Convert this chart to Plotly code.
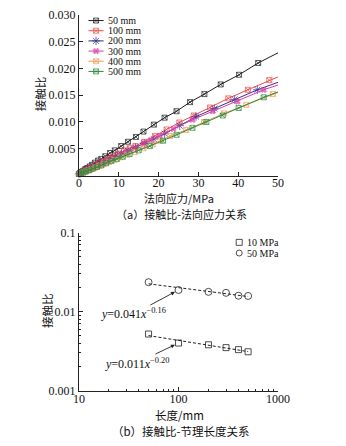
import numpy as np
import plotly.graph_objects as go

# ---------------- data: (a) contact ratio vs normal stress ----------------
series_names = ["50 mm", "100 mm", "200 mm", "300 mm", "400 mm", "500 mm"]

stress_50 = [0, 0.3, 0.7, 1.1, 1.6, 2.1, 2.7, 3.3, 4.0, 4.8, 5.6, 6.6, 7.8, 9.0, 10.6, 12.3, 14.3,
             16.2, 18.8, 21.5, 24.5, 27.9, 31.5, 35.6, 40.2, 45.0, 50.0]
ratio_50 = [0.0003, 0.00045, 0.0007, 0.0009, 0.0012, 0.0014, 0.0017, 0.0020, 0.0024, 0.0028, 0.0031,
            0.0036, 0.0042, 0.0047, 0.0055, 0.0063, 0.0072, 0.0082, 0.0095, 0.0108, 0.0120, 0.0137,
            0.0152, 0.0170, 0.0188, 0.0210, 0.0229]

stress_100 = [0, 0.4, 0.9, 1.4, 2.0, 2.6, 3.3, 4.1, 5.0, 6.0, 7.1, 8.4, 9.8, 11.3, 12.7, 14.2, 16.4,
              19.1, 22.0, 25.2, 28.8, 32.9, 37.5, 42.4, 47.8, 50.0]
ratio_100 = [0.0003, 0.00045, 0.0007, 0.0009, 0.0011, 0.0013, 0.0016, 0.0019, 0.0023, 0.0027, 0.0031,
             0.0036, 0.0041, 0.0047, 0.0051, 0.0055, 0.0063, 0.0074, 0.0086, 0.0099, 0.0112, 0.0127,
             0.0144, 0.0160, 0.0178, 0.0184]

stress_200 = [0, 0.4, 0.9, 1.5, 2.1, 2.8, 3.6, 4.5, 5.5, 6.6, 7.8, 9.1, 10.6, 12.3, 14.2, 16.4, 18.8,
              21.5, 25.3, 29.4, 34.0, 39.1, 44.8, 50.0]
ratio_200 = [0.0003, 0.00045, 0.0006, 0.0008, 0.0010, 0.0013, 0.0015, 0.0018, 0.0022, 0.0026, 0.0030,
             0.0035, 0.0040, 0.0046, 0.0052, 0.0060, 0.0068, 0.0078, 0.0093, 0.0110, 0.0125, 0.0142,
             0.0160, 0.0174]

stress_300 = [0, 0.5, 1.0, 1.6, 2.3, 3.0, 3.9, 4.9, 6.0, 7.2, 8.6, 10.2, 12.0, 14.0, 16.2, 18.0, 20.2,
              23.7, 28.5, 33.6, 39.8, 46.4, 50.0]
ratio_300 = [0.0003, 0.0005, 0.0007, 0.0009, 0.0011, 0.0013, 0.0016, 0.0020, 0.0023, 0.0028, 0.0032,
             0.0038, 0.0044, 0.0051, 0.0059, 0.0066, 0.0074, 0.0087, 0.0104, 0.0120, 0.0138, 0.0160,
             0.0169]

stress_400 = [0, 0.5, 1.1, 1.7, 2.4, 3.2, 4.1, 5.1, 6.2, 7.5, 8.9, 10.4, 12.1, 14.0, 16.2, 18.5, 20.5,
              22.9, 26.9, 31.4, 36.4, 42.0, 48.7, 50.0]
ratio_400 = [0.0003, 0.0004, 0.0006, 0.0008, 0.0010, 0.0012, 0.0015, 0.0018, 0.0021, 0.0025, 0.0029,
             0.0034, 0.0039, 0.0044, 0.0051, 0.0058, 0.0065, 0.0074, 0.0085, 0.0100, 0.0116, 0.0132,
             0.0152, 0.0155]

stress_500 = [0, 0.5, 1.1, 1.8, 2.6, 3.5, 4.5, 5.6, 6.8, 8.1, 9.5, 11.0, 12.7, 15.0, 17.8, 21.1, 24.5,
              28.5, 32.0, 36.1, 40.1, 46.4, 50.0]
ratio_500 = [0.0003, 0.0004, 0.0006, 0.0008, 0.0010, 0.0013, 0.0016, 0.0019, 0.0023, 0.0027, 0.0031,
             0.0035, 0.0040, 0.0047, 0.0055, 0.0065, 0.0076, 0.0089, 0.0100, 0.0112, 0.0126, 0.0146,
             0.0156]

# ---------------- data: (b) contact ratio vs joint length ----------------
lengths = [50, 100, 200, 300, 400, 500]
ratio_10MPa = [0.0052, 0.0040, 0.0038, 0.0035, 0.0033, 0.0031]
ratio_50MPa = [0.0236, 0.0188, 0.0178, 0.0173, 0.0159, 0.0158]

x_ticks_a = [0, 10, 20, 30, 40, 50]
y_ticks_a = [0.005, 0.010, 0.015, 0.020, 0.025, 0.030]
y_ticklabels_a = ["0.005", "0.010", "0.015", "0.020", "0.025", "0.030"]
x_ticks_b = [10, 100, 1000]
y_ticks_b = [0.001, 0.01, 0.1]

# ---------------- style ----------------
W, H = 346, 446
SERIF = "Liberation Serif, Times New Roman, Noto Sans CJK SC, serif"
CJK = "Noto Sans CJK SC, Liberation Serif, sans-serif"
colors = ["#1e1e1e", "#ef4a4a", "#3a2d8e", "#d83fa4", "#f29a58", "#2b8c3c"]
symbols = ["square-x-open", "square-x-open", "asterisk-open", "x", "square-x-open", "square-x-open"]
msizes = [5, 5, 7, 5, 5, 5]

def px_x(px):
    return px / W

def px_y(py):
    return 1 - py / H

fig = go.Figure()

all_series = [(stress_50, ratio_50), (stress_100, ratio_100), (stress_200, ratio_200),
              (stress_300, ratio_300), (stress_400, ratio_400), (stress_500, ratio_500)]

for i, (xs, ys) in enumerate(all_series):
    sizes = [msizes[i]] * (len(xs) - 1) + [0]
    fig.add_trace(go.Scatter(
        x=xs, y=ys, mode="lines+markers", name=series_names[i],
        line=dict(color=colors[i], width=1),
        marker=dict(symbol=symbols[i], size=sizes, color=colors[i],
                    line=dict(color=colors[i], width=1)),
        xaxis="x", yaxis="y", showlegend=False, cliponaxis=False))

# power-law fits for (b)
for vals, sym in [(ratio_10MPa, "square-open"), (ratio_50MPa, "circle-open")]:
    b, a = np.polyfit(np.log10(lengths), np.log10(vals), 1)
    xf = np.geomspace(lengths[0], lengths[-1], 30)
    yf = 10 ** (a + b * np.log10(xf))
    fig.add_trace(go.Scatter(x=xf, y=yf, mode="lines", line=dict(color="#222", width=1, dash="3px,2px"),
                             xaxis="x2", yaxis="y2", showlegend=False, hoverinfo="skip"))
    fig.add_trace(go.Scatter(x=lengths, y=vals, mode="markers",
                             marker=dict(symbol=sym, size=7 if sym == "circle-open" else 6,
                                         color="#222", line=dict(width=0.8, color="#222")),
                             xaxis="x2", yaxis="y2", showlegend=False))

# ---------------- manual legends on an overlay pixel axis ----------------
leg_rows = [14, 24.5, 35, 45.5, 56, 66.5]
for i, row in enumerate(leg_rows):
    fig.add_trace(go.Scatter(
        x=[87, 95, 103], y=[row, row, row], mode="lines+markers",
        line=dict(color=colors[i], width=1),
        marker=dict(symbol=symbols[i], size=[0, msizes[i], 0], color=colors[i],
                    line=dict(color=colors[i], width=1)),
        xaxis="x3", yaxis="y3", showlegend=False, hoverinfo="skip"))
    fig.add_annotation(x=106, y=row, xref="x3", yref="y3", text=series_names[i], showarrow=False,
                       xanchor="left", yanchor="middle", font=dict(family=SERIF, size=10, color="#111"))

for row, sym, lab in [(243, "square-open", "10 MPa"), (254, "circle-open", "50 MPa")]:
    fig.add_trace(go.Scatter(x=[246], y=[row], mode="markers",
                             marker=dict(symbol=sym, size=6, color="#222", line=dict(width=0.8, color="#222")),
                             xaxis="x3", yaxis="y3", showlegend=False, hoverinfo="skip"))
    fig.add_annotation(x=252, y=row, xref="x3", yref="y3", text=lab, showarrow=False,
                       xanchor="left", yanchor="middle", font=dict(family=SERIF, size=10, color="#111"))

axis_common = dict(showline=True, linecolor="#222", linewidth=1, ticks="inside", ticklen=4,
                   tickcolor="#222", tickwidth=1, showgrid=False, zeroline=False, mirror=False,
                   tickfont=dict(family=SERIF, size=12, color="#111"))

xd = [px_x(77), px_x(287)]
fig.update_layout(
    width=W, height=H, margin=dict(l=0, r=0, t=0, b=0),
    paper_bgcolor="white", plot_bgcolor="rgba(0,0,0,0)", showlegend=False,
    xaxis=dict(domain=xd, anchor="y", range=[0, 50], tickvals=x_ticks_a, ticklabelstandoff=-4,
               **axis_common),
    yaxis=dict(domain=[px_y(174), px_y(8)], anchor="x", range=[0, 0.030], tickvals=y_ticks_a,
               ticktext=y_ticklabels_a, **axis_common),
    xaxis2=dict(domain=xd, anchor="y2", type="log", range=[1, 3], tickvals=x_ticks_b,
                ticktext=["10", "100", "1000"], ticklabelstandoff=-3,
                minor=dict(tickvals=[20, 30, 40, 50, 60, 70, 80, 90, 200, 300, 400, 500, 600, 700, 800, 900],
                           ticks="inside", ticklen=2, tickcolor="#222"),
                **axis_common),
    yaxis2=dict(domain=[px_y(396), px_y(233)], anchor="x2", type="log", range=[-3, -1], tickvals=y_ticks_b,
                ticktext=["0.001", "0.01", "0.1"],
                minor=dict(tickvals=[0.002, 0.003, 0.004, 0.005, 0.006, 0.007, 0.008, 0.009,
                                     0.02, 0.03, 0.04, 0.05, 0.06, 0.07, 0.08, 0.09],
                           ticks="inside", ticklen=2, tickcolor="#222"),
                **axis_common),
    xaxis3=dict(domain=[0, 1], anchor="y3", range=[0, W], visible=False, fixedrange=True),
    yaxis3=dict(domain=[0, 1], anchor="x3", range=[H, 0], visible=False, fixedrange=True),
)

# axis titles and captions
texts = [
    ("法向应力/MPa", 183, 197.5, 0, 11),
    ("（a）接触比-法向应力关系", 185, 214, 0, 11),
    ("长度/mm", 183, 421, 0, 11.5),
    ("（b）接触比-节理长度关系", 185, 438, 0, 11.5),
    ("接触比", 36, 90, -90, 11.5),
    ("接触比", 43, 313, -90, 11.5),
]
for t, x, y, ang, fs in texts:
    fig.add_annotation(x=px_x(x), y=px_y(y), xref="paper", yref="paper", text=t, showarrow=False,
                       textangle=ang, xanchor="center", yanchor="middle",
                       font=dict(family=CJK, size=fs, color="#111"))

# fit equations with arrows (text sits at the arrow tail)
eqs = [("<i>y</i>=0.041<i>x</i><sup>−0.16</sup>", 0.0188, -45, 24),
       ("<i>y</i>=0.011<i>x</i><sup>−0.20</sup>", 0.0040, -42, 20)]
for t, yv, ax, ay in eqs:
    fig.add_annotation(x=2, y=np.log10(yv), xref="x2", yref="y2", text=t, showarrow=True,
                       ax=ax, ay=ay, arrowhead=2, arrowsize=0.9, arrowwidth=0.9,
                       arrowcolor="#222", standoff=4,
                       font=dict(family=SERIF, size=12, color="#111"))

fig.write_html("out.html")
